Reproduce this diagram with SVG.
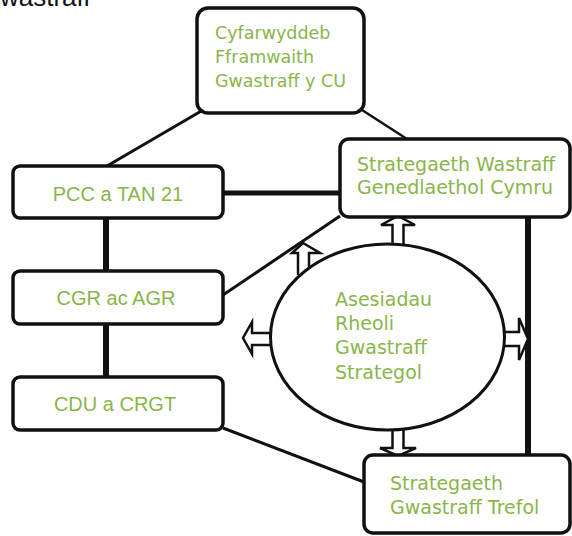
<svg xmlns="http://www.w3.org/2000/svg" width="572" height="536" viewBox="0 0 572 536">
<style>
.box{fill:#fff;stroke:#111;stroke-width:3.5}
.ln{stroke:#111;fill:none;stroke-linecap:butt}
.arr{fill:#fff;stroke:#111;stroke-width:2.5;stroke-linejoin:miter}
.t{fill:#8ab54a;font-family:"DejaVu Sans",sans-serif;font-size:19px}
.ta{fill:#8ab54a;font-family:"Liberation Sans",Arial,sans-serif;font-size:20px;text-anchor:middle}
</style>
<rect width="572" height="536" fill="#fff"/>
<text x="0" y="6" font-family="Liberation Sans, Arial, sans-serif" font-size="26" fill="#111">wastraff</text>
<g id="connectors">
<line class="ln" x1="203" y1="110" x2="107" y2="166" stroke-width="3"/>
<line class="ln" x1="362" y1="110" x2="407" y2="139" stroke-width="2.5"/>
<line class="ln" x1="223" y1="193" x2="340" y2="193" stroke-width="5"/>
<line class="ln" x1="106" y1="218" x2="106" y2="271" stroke-width="6"/>
<line class="ln" x1="106" y1="324" x2="106" y2="377" stroke-width="6"/>
<line class="ln" x1="223" y1="295" x2="340" y2="216" stroke-width="3"/>
<line class="ln" x1="223" y1="428" x2="364" y2="482" stroke-width="3"/>
<line class="ln" x1="528" y1="217" x2="528" y2="455" stroke-width="6"/>
<path class="arr" d="M392.5,246 L392.5,225 L381,225 L398,216 L415,225 L403.5,225 L403.5,246"/>
<path class="arr" d="M298,275 L298,253 L292,253 L303,243 L320,253 L309,253 L309,275"/>
<path class="arr" d="M272,333 L252,333 L252,322 L243,338 L252,354 L252,345 L272,345"/>
<path class="arr" d="M503,332 L519,332 L519,318 L528,339 L519,360 L519,346 L503,346"/>
<path class="arr" d="M392.5,428 L392.5,448 L380,448 L398,456 L416,448 L403.5,448 L403.5,428"/>
</g>
<g id="ellipse-asesiadau">
<ellipse cx="387.5" cy="337" rx="117" ry="93" fill="#fff" stroke="#111" stroke-width="3"/>
<text class="t" x="335" y="306">Asesiadau</text>
<text class="t" x="335" y="330">Rheoli</text>
<text class="t" x="335" y="354">Gwastraff</text>
<text class="t" x="335" y="379">Strategol</text>
</g>
<g id="node-cyfarwyddeb">
<rect class="box" x="197" y="8" width="167" height="105" rx="11"/>
<text class="t" x="215" y="39" style="font-size:17.5px">Cyfarwyddeb</text>
<text class="t" x="215" y="63" style="font-size:17.5px">Fframwaith</text>
<text class="t" x="215" y="87" style="font-size:17.5px">Gwastraff y CU</text>
</g>
<g id="node-pcc">
<rect class="box" x="13" y="166" width="210" height="52" rx="7"/>
<text class="ta" x="118" y="201">PCC a TAN 21</text>
</g>
<g id="node-cgr">
<rect class="box" x="13" y="271" width="210" height="53" rx="7"/>
<text class="ta" x="116" y="305">CGR ac AGR</text>
</g>
<g id="node-cdu">
<rect class="box" x="13" y="377" width="210" height="53" rx="7"/>
<text class="ta" x="115" y="411">CDU a CRGT</text>
</g>
<g id="node-strategaeth-cymru">
<rect class="box" x="340" y="139" width="230" height="78" rx="9"/>
<text class="t" x="357" y="171">Strategaeth Wastraff</text>
<text class="t" x="357" y="194">Genedlaethol Cymru</text>
</g>
<g id="node-strategaeth-trefol">
<rect class="box" x="364" y="455" width="206" height="78" rx="9"/>
<text class="t" x="390" y="490">Strategaeth</text>
<text class="t" x="390" y="514">Gwastraff Trefol</text>
</g>
</svg>
